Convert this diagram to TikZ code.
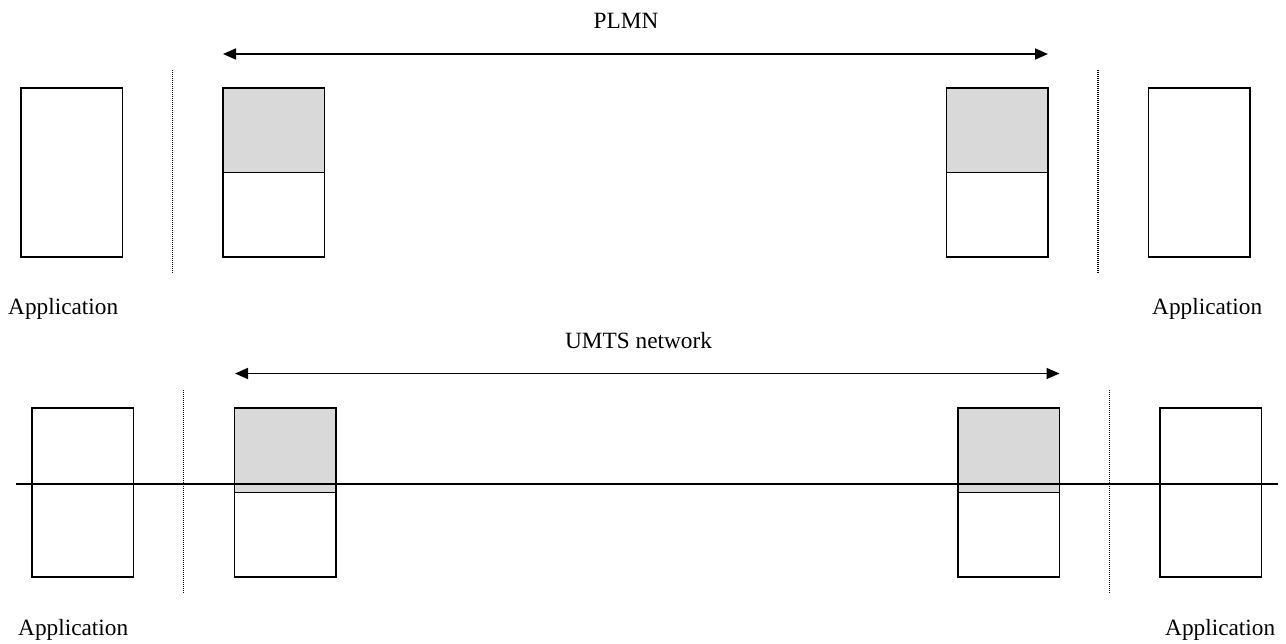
\documentclass[tikz,border=0pt]{standalone}
\usepackage{fontspec}
\setmainfont{Liberation Serif}
\usetikzlibrary{arrows.meta}
\definecolor{layergrey}{HTML}{D9D9D9}
\tikzset{
  box/.style={draw=black, line width=1.8pt, fill=white, inner sep=0pt, outer sep=0pt,
              anchor=north west, minimum width=101.5pt},
  appbox/.style={box, minimum height=169pt},
  upperhalf/.style={box, fill=layergrey, minimum height=84.5pt},
  lowerhalf/.style={box, minimum height=84.5pt},
  divider/.style={line width=1.3pt, dash pattern=on 1pt off 1pt, black},
  span/.style={line width=1.6pt, {Triangle[length=13pt,width=11pt]}-{Triangle[length=13pt,width=11pt]}},
  bearer/.style={line width=2.6pt},
  lbl/.style={inner sep=0pt, font=\fontsize{23.3}{28}\selectfont}
}
\begin{document}
\begin{tikzpicture}[x=1pt, y=-1pt]
\useasboundingbox (0,0) rectangle (1286,644);

% ---- upper scenario: PLMN ----
\node[appbox]    (appA)  at (21,88) {};
\node[upperhalf] (netAu) at (223,88) {};
\node[lowerhalf] (netAl) at (223,172.5) {};
\node[upperhalf] (netBu) at (946.5,88) {};
\node[lowerhalf] (netBl) at (946.5,172.5) {};
\node[appbox]    (appB)  at (1148.5,88) {};

\coordinate (dA1) at (172.5,70);  \coordinate (dA2) at (172.5,273);
\coordinate (dB1) at (1098,70);   \coordinate (dB2) at (1098,273);
\draw[divider] (dA1) -- (dA2);
\draw[divider] (dB1) -- (dB2);

\coordinate (pL) at (223,54);  \coordinate (pR) at (1048,54);
\draw[span] (pL) -- (pR);
\node[lbl] (plmn) at (626,21) {PLMN};

\node[lbl, anchor=base west] (appAtxt) at (8,315) {Application};
\node[lbl, anchor=base west] (appBtxt) at (1152,315) {Application};

% ---- lower scenario: UMTS network ----
\node[appbox]    (appC)  at (32,408) {};
\node[upperhalf] (netCu) at (234.5,408) {};
\node[lowerhalf] (netCl) at (234.5,492.5) {};
\node[upperhalf] (netDu) at (958,408) {};
\node[lowerhalf] (netDl) at (958,492.5) {};
\node[appbox]    (appD)  at (1160,408) {};

\coordinate (dC1) at (183.7,390);  \coordinate (dC2) at (183.7,593);
\coordinate (dD1) at (1109.7,390); \coordinate (dD2) at (1109.7,593);
\draw[divider] (dC1) -- (dC2);
\draw[divider] (dD1) -- (dD2);

\coordinate (uL) at (235,373.5);  \coordinate (uR) at (1059.5,373.5);
\draw[span] (uL) -- (uR);
\node[lbl] (umts) at (638.5,341) {UMTS network};

\coordinate (bL) at (16,484);  \coordinate (bR) at (1278,484);
\draw[bearer] (bL) -- (bR);

\node[lbl, anchor=base west] (appCtxt) at (18,635) {Application};
\node[lbl, anchor=base west] (appDtxt) at (1165,635) {Application};
\end{tikzpicture}
\end{document}
